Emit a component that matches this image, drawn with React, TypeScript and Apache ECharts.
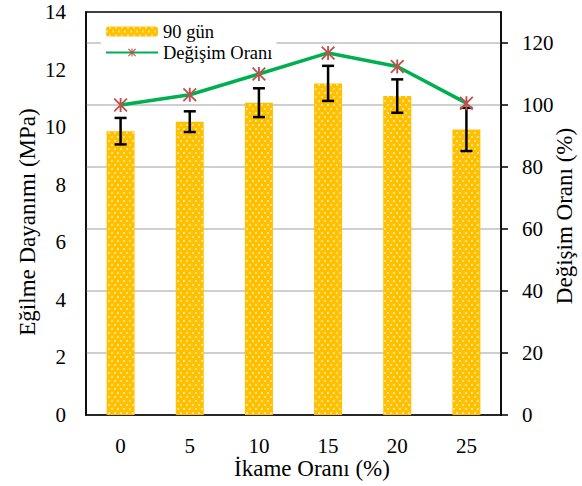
import { useEffect, useRef } from 'react';
import * as echarts from 'echarts';

const categories = ['0', '5', '10', '15', '20', '25'];
const strength = [9.86, 10.19, 10.85, 11.52, 11.08, 9.92];
const strengthSd = [0.46, 0.36, 0.5, 0.61, 0.58, 0.75];
const changeRatio = [100, 103.3, 110, 116.8, 112.4, 100.6];
const rightTicks = [0, 20, 40, 60, 80, 100, 120];

const barName = '90 gün';
const lineName = 'Değişim Oranı';
const xTitle = 'İkame Oranı (%)';
const leftTitle = 'Eğilme Dayanımı (MPa)';
const rightTitle = 'Değişim Oranı (%)';

const FONT = 'Liberation Serif';
const asterisk =
  'path://M5.2,0L6.8,0L6.8,12L5.2,12Z M0,1.1L1.1,0L12,10.9L10.9,12Z M10.9,0L12,1.1L1.1,12L0,10.9Z';

export default function App() {
  const ref = useRef<HTMLDivElement>(null);
  useEffect(() => {
    if (!ref.current) return;
    const chart = echarts.init(ref.current, null, { renderer: 'svg' });
    const errData = strength.map((v, i) => [i, v - strengthSd[i], v + strengthSd[i]]);
    const lbl = { color: '#000', fontSize: 21, fontFamily: FONT };
    chart.setOption({
      animation: false,
      textStyle: { fontFamily: FONT },
      grid: {
        left: 86,
        right: 81,
        top: 12,
        bottom: 71,
        show: true,
        borderColor: '#000',
        borderWidth: 1.5,
        backgroundColor: 'transparent',
      },
      legend: {
        left: 101,
        top: 20,
        orient: 'vertical',
        itemWidth: 52,
        itemHeight: 10,
        itemGap: 2,
        padding: [2, 4, 2, 4],
        backgroundColor: '#fff',
        textStyle: { fontFamily: FONT, fontSize: 18.5, color: '#000' },
        data: [barName, lineName],
      },
      xAxis: {
        type: 'category',
        data: categories,
        axisLine: { lineStyle: { color: '#000', width: 1.5 } },
        axisTick: { show: false },
        axisLabel: { ...lbl, margin: 20 },
      },
      yAxis: [
        {
          type: 'value',
          min: 0,
          max: 14,
          interval: 2,
          axisLine: { show: true, lineStyle: { color: '#000', width: 1.5 } },
          axisTick: { show: false },
          splitLine: { show: false },
          axisLabel: { ...lbl, margin: 20 },
        },
        {
          type: 'value',
          min: 0,
          max: 130,
          interval: 20,
          position: 'right',
          axisLine: { show: true, lineStyle: { color: '#000', width: 1.5 } },
          axisTick: {
            show: true,
            length: 7,
            lineStyle: { color: '#000', width: 1.5 },
            customValues: rightTicks,
          },
          splitLine: { show: true, lineStyle: { color: '#bfbfbf', width: 1.5 } },
          axisLabel: { ...lbl, margin: 21, customValues: rightTicks },
        },
      ],
      graphic: [
        {
          type: 'text',
          x: 312,
          y: 468,
          style: { text: xTitle, fontSize: 23, fontFamily: FONT, fill: '#000', align: 'center', verticalAlign: 'middle' },
        },
        {
          type: 'text',
          x: 27,
          y: 222,
          rotation: Math.PI / 2,
          style: { text: leftTitle, fontSize: 23, fontFamily: FONT, fill: '#000', align: 'center', verticalAlign: 'middle' },
        },
        {
          type: 'text',
          x: 564,
          y: 216,
          rotation: Math.PI / 2,
          style: { text: rightTitle, fontSize: 23, fontFamily: FONT, fill: '#000', align: 'center', verticalAlign: 'middle' },
        },
      ],
      series: [
        {
          name: barName,
          type: 'bar',
          data: strength,
          barWidth: 28,
          itemStyle: {
            color: '#FFC000',
            decal: {
              symbol: 'rect',
              symbolSize: 0.8,
              color: 'rgba(255,255,255,0.85)',
              dashArrayX: [[2, 4], [0, 3, 2, 1]],
              dashArrayY: [2, 1.5],
            },
          },
          z: 2,
        },
        {
          name: 'err',
          type: 'custom',
          data: errData,
          z: 3,
          renderItem: (params: any, api: any) => {
            const x = api.value(0);
            const lo = api.coord([x, api.value(1)]);
            const hi = api.coord([x, api.value(2)]);
            const hw = 6;
            const st = { stroke: '#000', lineWidth: 2.5 };
            return {
              type: 'group',
              children: [
                { type: 'line', shape: { x1: lo[0], y1: lo[1], x2: hi[0], y2: hi[1] }, style: st },
                { type: 'line', shape: { x1: lo[0] - hw, y1: lo[1], x2: lo[0] + hw, y2: lo[1] }, style: st },
                { type: 'line', shape: { x1: hi[0] - hw, y1: hi[1], x2: hi[0] + hw, y2: hi[1] }, style: st },
              ],
            };
          },
        },
        {
          name: lineName,
          type: 'line',
          yAxisIndex: 1,
          data: changeRatio,
          symbol: asterisk,
          symbolSize: 14,
          showAllSymbol: true,
          itemStyle: { color: '#C0504D' },
          lineStyle: { color: '#00B050', width: 3.5 },
          z: 4,
        },
      ],
    });
    return () => chart.dispose();
  }, []);
  return (
    <div
      ref={ref}
      style={{ position: 'fixed', left: 0, top: 0, width: 582, height: 486, background: '#fff' }}
    />
  );
}
